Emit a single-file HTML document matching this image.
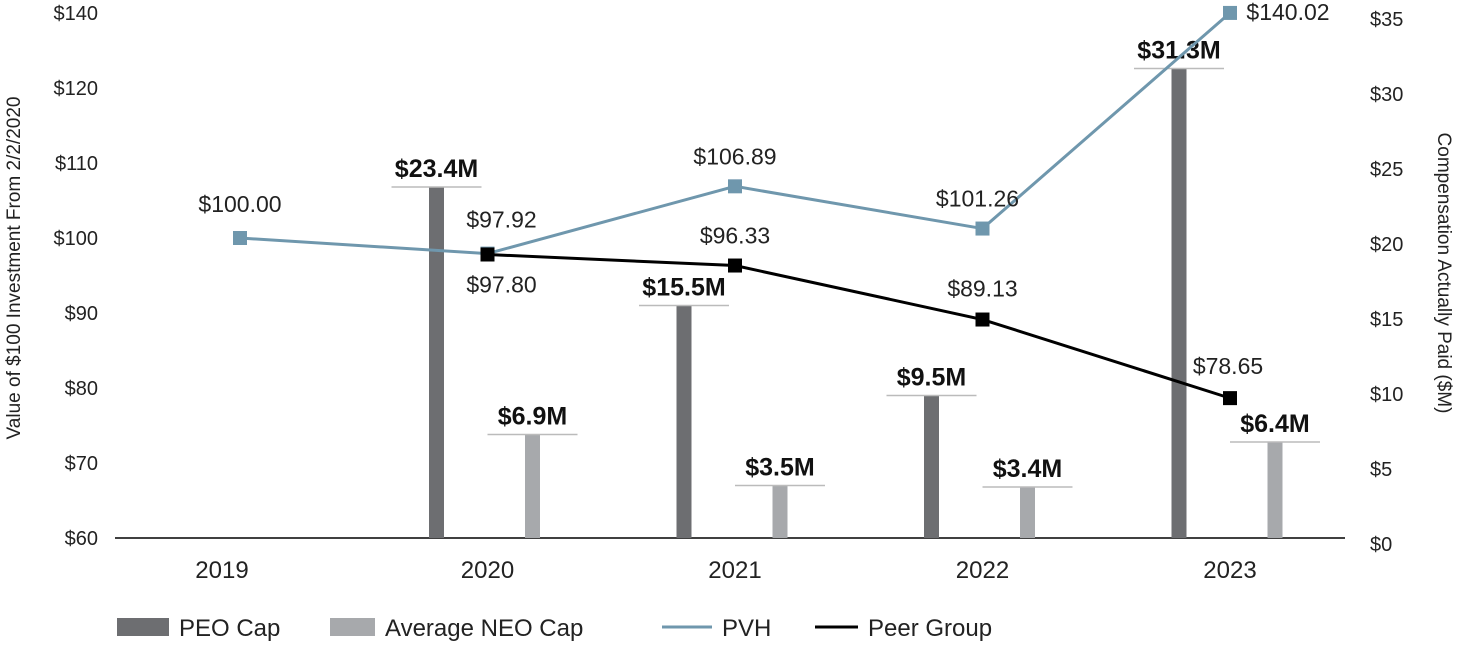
<!DOCTYPE html>
<html><head><meta charset="utf-8"><style>
body{margin:0;background:#fff;}
svg text{font-family:"Liberation Sans",sans-serif;}
</style></head><body>
<svg id="chart" width="1458" height="645" xmlns="http://www.w3.org/2000/svg"></svg>
<script>
const years=["2019","2020","2021","2022","2023"];
const peoCap=[null,23.4,15.5,9.5,31.3];
const neoCap=[null,6.9,3.5,3.4,6.4];
const pvh=[100.00,97.92,106.89,101.26,140.02];
const peer=[null,97.80,96.33,89.13,78.65];
const leftTicks=[60,70,80,90,100,110,120,140];
const rightTicks=[0,5,10,15,20,25,30,35];
const pvhLabelOff=[[0,-26],[14,-26],[0,-22],[-5,-22],[58,7]];
const peerLabelOff=[[0,0],[14,38],[0,-22],[0,-23],[-2,-24]];
const svg=document.getElementById('chart');
const NS="http://www.w3.org/2000/svg";
function mk(tag,attrs,parent){const e=document.createElementNS(NS,tag);for(const k in attrs)e.setAttribute(k,attrs[k]);(parent||svg).appendChild(e);return e;}
const x0=240,dx=247.5,base=538,step=75;
function xs(i){return x0+i*dx;}
function yL(v){
  for(let i=0;i<leftTicks.length-1;i++){const a=leftTicks[i],b=leftTicks[i+1];
    if(v<=b||i==leftTicks.length-2){return base-(i+(v-a)/(b-a))*step;}}
}
function yR(v){return base-v*15;}
let e=mk('line',{x1:115,y1:base,x2:1345,y2:base,stroke:'#000','stroke-width':1.5});

leftTicks.forEach((t,i)=>{const tx=mk('text',{x:98,y:base-i*step+7,'text-anchor':'end','font-size':20,fill:'#222'});tx.textContent='$'+t;
});
rightTicks.forEach(t=>{const tx=mk('text',{x:1370,y:yR(t)+13,'font-size':20,fill:'#222'});tx.textContent='$'+t;
});
years.forEach((y,i)=>{const tx=mk('text',{x:xs(i)-(i==0?18:0),y:578,'text-anchor':'middle','font-size':24,fill:'#222'});tx.textContent=y;
});
let t1=mk('text',{transform:'translate(20,268) rotate(-90)','text-anchor':'middle','font-size':19,fill:'#222'});t1.textContent='Value of $100 Investment From 2/2/2020';

let t2=mk('text',{transform:'translate(1438,273) rotate(90)','text-anchor':'middle','font-size':19,fill:'#222'});t2.textContent='Compensation Actually Paid ($M)';

function bar(v,cx,color,name){if(v==null)return;const y=yR(v);
 const r=mk('rect',{x:cx-7.5,y:y,width:15,height:base-y,fill:color});
 const l=mk('line',{x1:cx-45,x2:cx+45,y1:y,y2:y,stroke:'#bbb','stroke-width':1.5});
 const tx=mk('text',{x:cx,y:y-10,'text-anchor':'middle','font-size':25,'font-weight':'bold',fill:'#111'});tx.textContent='$'+v.toFixed(1)+'M';
 }
years.forEach((y,i)=>{bar(peoCap[i],xs(i)-51,'#6d6e71','peo-bar-'+y);bar(neoCap[i],xs(i)+45,'#a7a9ac','neo-bar-'+y);});
function series(data,color,name,offs){const pts=[];data.forEach((v,i)=>{if(v!=null)pts.push([xs(i),yL(v),v,i]);});
 const p=mk('polyline',{points:pts.map(p=>p[0]+','+p[1]).join(' '),fill:'none',stroke:color,'stroke-width':3});
 
 pts.forEach(q=>{const m=mk('rect',{x:q[0]-7,y:q[1]-7,width:14,height:14,fill:color});
  const o=offs[q[3]];const tx=mk('text',{x:q[0]+o[0],y:q[1]+o[1],'text-anchor':'middle','font-size':23,fill:'#222'});tx.textContent='$'+q[2].toFixed(2);
  });}
series(pvh,'#6f97ad','pvh',pvhLabelOff);
series(peer,'#000','peer-group',peerLabelOff);
function leg(x,kind,color,label,w){let m;if(kind=='rect')m=mk('rect',{x:x,y:618,width:w,height:18,fill:color});else m=mk('line',{x1:x,x2:x+w,y1:627,y2:627,stroke:color,'stroke-width':3});
 
 const tx=mk('text',{x:x+w+10,y:636,'font-size':24,fill:'#222'});tx.textContent=label;}
leg(117,'rect','#6d6e71','PEO Cap',52);
leg(330,'rect','#a7a9ac','Average NEO Cap',45);
leg(662,'line','#6f97ad','PVH',50);
leg(815,'line','#000','Peer Group',43);
</script>
</body></html>
